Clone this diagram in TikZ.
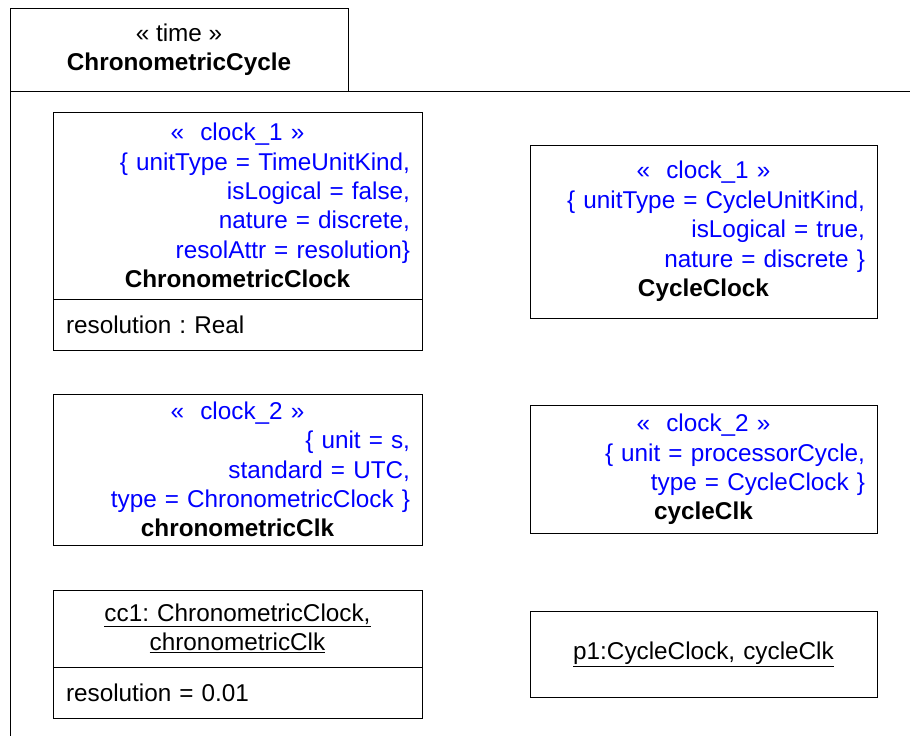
\documentclass[tikz,border=0pt]{standalone}
\usepackage{fontspec}
\setmainfont{Liberation Sans}
\usetikzlibrary{positioning}
\frenchspacing

\begin{document}
\begin{tikzpicture}[x=1pt, y=-1pt,
    font=\fontsize{24.3}{29.4}\selectfont,
    comp/.style={draw, line width=1pt, outer sep=0pt, inner xsep=12pt, inner ysep=0pt},
    wide/.style={comp, text width=345pt},
    narrow/.style={comp, text width=323pt},
    attr/.style={comp, text width=343pt, inner xsep=13pt, minimum height=51pt}
  ]
  \useasboundingbox (0,0) rectangle (910,736);
  % package frame
  \node[draw, line width=0.8pt, outer sep=0pt, minimum width=338pt, minimum height=83pt, align=center] (pkg) at (179,49.5)
    {« time »\\\textbf{ChronometricCycle}};
  \coordinate (frameBL) at (10,736);
  \coordinate (frameTR) at (910,91);
  \draw[line width=0.8pt] (frameBL) -- (pkg.south west) -- (frameTR);

  % clock types
  \node[wide, minimum height=187pt] (chronoHead) at (237.5,205.5) {%
    {\centering\leavevmode\color{blue}«\ \ clock\_1 »\par}%
    {\raggedleft\leavevmode\color{blue}\{ unitType = TimeUnitKind,\\isLogical = false,\\nature = discrete,\\resolAttr = resolution\}\par}%
    {\centering\bfseries ChronometricClock\par}};
  \node[attr, below=0pt of chronoHead] (chronoAttr) {resolution : Real};

  \node[narrow, minimum height=173pt] (cycleHead) at (703.5,231.5) {%
    {\centering\leavevmode\color{blue}«\ \ clock\_1 »\par}%
    {\raggedleft\leavevmode\color{blue}\{ unitType = CycleUnitKind,\\isLogical = true,\\nature = discrete \}\par}%
    {\centering\bfseries CycleClock\par}};

  % clock instances
  \node[wide, minimum height=151pt, below=44pt of chronoAttr] (chronoClk) {%
    {\centering\leavevmode\color{blue}«\ \ clock\_2 »\par}%
    {\raggedleft\leavevmode\color{blue}\{ unit = s,\\standard = UTC,\\type = ChronometricClock \}\par}%
    {\centering\bfseries chronometricClk\par}};
  \node[narrow, minimum height=128pt, right=108pt of chronoClk] (cycleClk) {%
    {\centering\leavevmode\color{blue}«\ \ clock\_2 »\par}%
    {\raggedleft\leavevmode\color{blue}\{ unit = processorCycle,\\type = CycleClock \}\par}%
    {\centering\bfseries cycleClk\par}};

  % objects
  \node[wide, minimum height=77pt, below=45pt of chronoClk, align=center] (ccHead)
    {\underline{cc1: ChronometricClock,}\\\underline{chronometricClk}};
  \node[attr, below=0pt of ccHead] (ccAttr) {resolution = 0.01};
  \node[narrow, minimum height=86pt, align=center] (pOne) at (703.5,654)
    {\underline{p1:CycleClock, cycleClk}};
\end{tikzpicture}
\end{document}
